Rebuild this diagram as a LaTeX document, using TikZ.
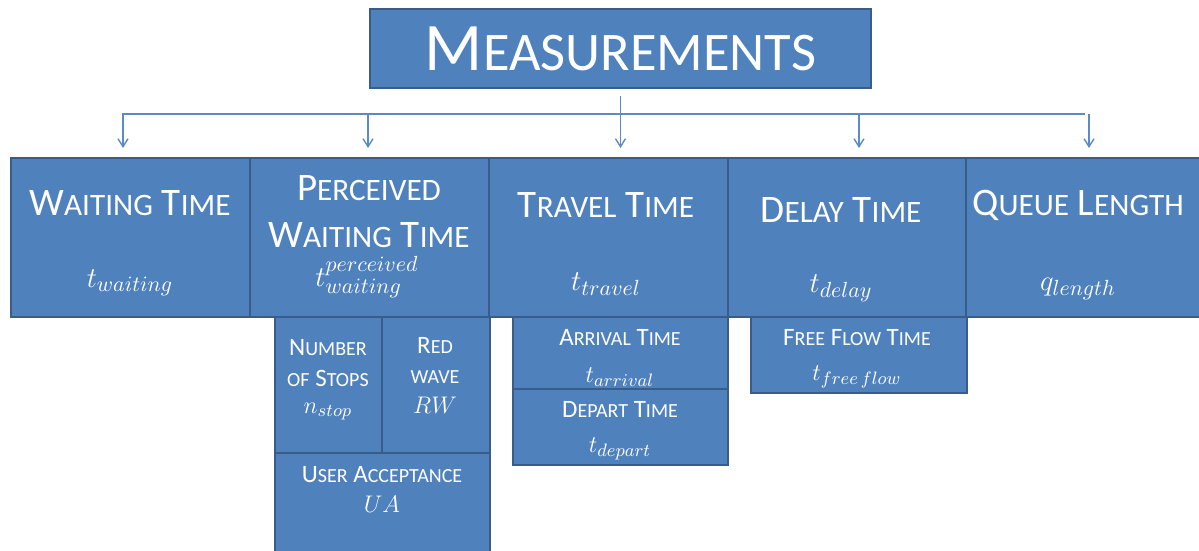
\documentclass[tikz,border=0pt]{standalone}
\usepackage{fontspec}
\setmainfont{Carlito}
\newfontfamily\lowcaps[Scale=0.8]{Carlito}
\usetikzlibrary{arrows.meta}

\definecolor{boxblue}{HTML}{4F81BD}
\definecolor{boxline}{HTML}{385D8A}
\definecolor{linkblue}{HTML}{5B8BC6}

% big first letter, rest in smaller capitals
\newcommand\capw[2]{#1{\lowcaps #2}}

\tikzset{
  box/.style={draw=boxline, fill=boxblue, line width=1pt, anchor=north west, inner sep=0pt},
  dims/.style 2 args={minimum width=#1*0.5pt, minimum height=#2*0.5pt},
  txt/.style={text=white, anchor=base, inner sep=0pt},
  titletext/.style={text=white, font=\fontsize{34}{40}\selectfont},
  headtext/.style={txt, font=\fontsize{19.5}{23}\selectfont},
  headmath/.style={txt, font=\fontsize{15}{18}\selectfont},
  subtext/.style={txt, font=\fontsize{12.5}{15}\selectfont},
  submath/.style={txt, font=\fontsize{13}{15}\selectfont},
  link/.style={draw=linkblue, line width=0.7pt}
}

\begin{document}
\begin{tikzpicture}[x=0.5pt,y=-0.5pt,>={Straight Barb[length=4pt,width=5pt]}]
    \useasboundingbox (0,0) rectangle (1199,551);

    % Draw the top box
    \node[box, dims={501}{79}, titletext] (meas) at (369,8) {\capw{M}{EASUREMENTS}};

    % Draw the row of measurement boxes
    \foreach \n/\x/\w in {waiting/10/239, perceived/249/239, travel/488/239, delay/727/238, queue/965/240}
    \node[box, dims={\w}{159}] (\n) at (\x,157) {};

    % Draw the boxes below
    \node[box, dims={107}{136}] (nstop) at (274,316) {};
    \node[box, dims={108}{136}] (redwave) at (381,316) {};
    \node[box, dims={215}{110}] (useracc) at (274,452) {};
    \node[box, dims={215}{72}] (arrival) at (512,316) {};
    \node[box, dims={215}{76}] (depart) at (512,388) {};
    \node[box, dims={216}{76}] (freeflow) at (750,316) {};

    % Labels of the row
    \node[headtext] (waitingT) at (130,215) {\capw{W}{AITING} \capw{T}{IME}};
    \node[headmath] (waitingM) at (130,287) {$t_{waiting}$};
    \node[headtext] (perceivedT) at (369,200) {\capw{P}{ERCEIVED}};
    \node[headtext] (perceivedU) at (369,247) {\capw{W}{AITING} \capw{T}{IME}};
    \node[headmath] (perceivedM) at (367,286) {$t^{perceived}_{waiting}$};
    \node[headtext] (travelT) at (606,217) {\capw{T}{RAVEL} \capw{T}{IME}};
    \node[headmath] (travelM) at (606,290) {$t_{travel}$};
    \node[headtext] (delayT) at (841,222) {\capw{D}{ELAY} \capw{T}{IME}};
    \node[headmath] (delayM) at (841,292) {$t_{delay}$};
    \node[headtext] (queueT) at (1078,215) {\capw{Q}{UEUE} \capw{L}{ENGTH}};
    \node[headmath] (queueM) at (1078,290) {$q_{length}$};

    % Labels of the boxes below
    \node[subtext] (nstopT) at (328,355) {\capw{N}{UMBER}};
    \node[subtext] (nstopU) at (328,386) {{\lowcaps OF} \capw{S}{TOPS}};
    \node[submath] (nstopM) at (328,413) {$n_{stop}$};
    \node[subtext] (redwaveT) at (435,353) {\capw{R}{ED}};
    \node[subtext] (redwaveU) at (435,383) {{\lowcaps WAVE}};
    \node[submath] (redwaveM) at (435,413) {$RW$};
    \node[subtext] (useraccT) at (382,482) {\capw{U}{SER} \capw{A}{CCEPTANCE}};
    \node[submath] (useraccM) at (382,512) {$UA$};
    \node[subtext] (arrivalT) at (620,345) {\capw{A}{RRIVAL} \capw{T}{IME}};
    \node[submath] (arrivalM) at (620,382) {$t_{arrival}$};
    \node[subtext] (departT) at (620,417) {\capw{D}{EPART} \capw{T}{IME}};
    \node[submath] (departM) at (620,452) {$t_{depart}$};
    \node[subtext] (freeflowT) at (857,345) {\capw{F}{REE} \capw{F}{LOW} \capw{T}{IME}};
    \node[submath] (freeflowM) at (857,380) {$t_{free\,flow}$};

    % Connectors
    \coordinate (busL) at (122,114);
    \coordinate (busR) at (1085,114);
    \draw[link] (busL) -- (busR);
    \draw[link,->,shorten <=3.5pt,shorten >=4.5pt] (meas.south) -- (meas.south |- travel.north);
    \foreach \n/\dx in {waiting/-7.5, perceived/-1.5, delay/12, queue/3}
    \draw[link,->,shorten >=4.5pt] ([xshift=\dx*0.5pt]\n.north |- busL) -- ([xshift=\dx*0.5pt]\n.north);

\end{tikzpicture}
\end{document}
